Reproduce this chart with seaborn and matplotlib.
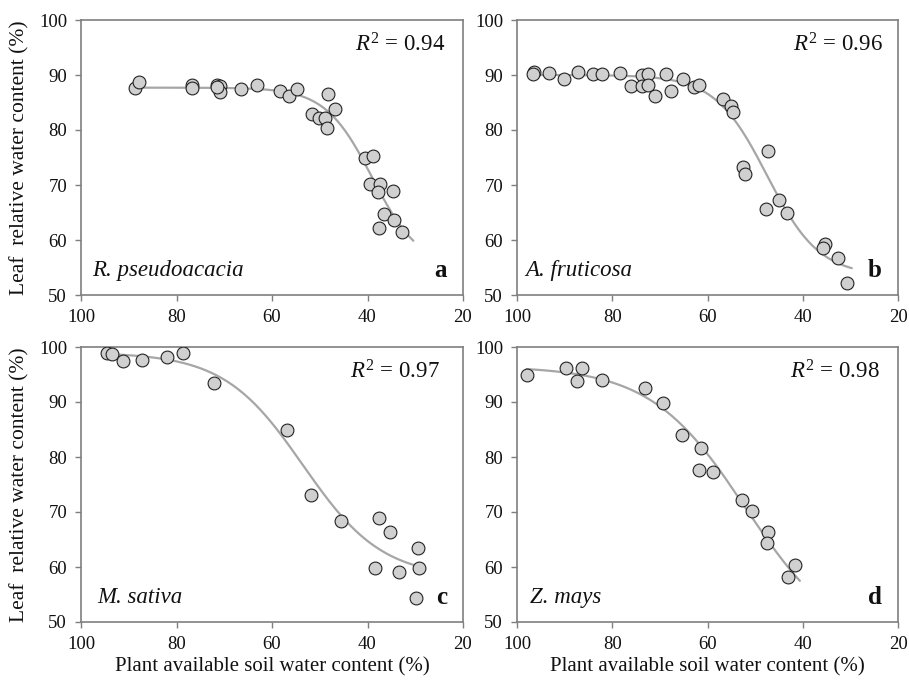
import numpy as np
import pandas as pd
import matplotlib
matplotlib.use("Agg")
import matplotlib.pyplot as plt
import seaborn as sns

# Plant available soil water content (%) and leaf relative water content (%)
x_a = [88.7, 87.9, 76.8, 76.8, 71.6, 70.9, 70.9, 71.6, 66.5, 63.1, 58.3, 56.4, 54.7,
       48.3, 46.8, 51.7, 50.1, 48.9, 48.5, 40.5, 38.9, 39.5, 37.4, 37.7, 34.6, 36.5,
       34.4, 37.5, 32.7]
y_a = [87.6, 88.7, 88.1, 87.6, 88.2, 88.0, 87.0, 87.8, 87.4, 88.2, 87.1, 86.2, 87.5,
       86.5, 83.9, 82.9, 82.1, 82.1, 80.3, 75.0, 75.2, 70.2, 70.2, 68.8, 68.9, 64.7,
       63.6, 62.1, 61.5]

x_b = [96.4, 96.6, 93.2, 90.1, 87.1, 84.0, 82.1, 78.4, 76.1, 73.8, 73.8, 72.4, 72.4,
       71.0, 68.7, 67.7, 65.1, 62.8, 61.7, 56.8, 55.1, 54.7, 47.2, 52.6, 52.1, 44.9,
       47.7, 43.4, 35.3, 35.7, 32.5, 30.8]
y_b = [90.5, 90.2, 90.3, 89.3, 90.5, 90.2, 90.2, 90.3, 88.0, 90.0, 88.0, 90.2, 88.2,
       86.1, 90.2, 87.1, 89.2, 87.9, 88.2, 85.6, 84.4, 83.3, 76.2, 73.2, 72.0, 67.3,
       65.6, 65.0, 59.2, 58.5, 56.7, 52.2]

x_c = [94.6, 93.6, 91.3, 87.3, 81.9, 78.7, 72.1, 56.9, 51.8, 45.6, 37.5, 35.3, 29.4,
       38.4, 33.3, 29.2, 29.8]
y_c = [99.0, 98.7, 97.5, 97.6, 98.1, 99.0, 93.4, 85.0, 73.1, 68.4, 69.0, 66.4, 63.4,
       59.9, 59.1, 59.9, 54.3]

x_d = [98.0, 89.8, 86.4, 87.5, 82.1, 73.1, 69.3, 65.4, 61.4, 61.7, 58.9, 52.8, 50.7,
       47.4, 47.6, 41.6, 43.0]
y_d = [95.0, 96.1, 96.1, 93.8, 94.0, 92.5, 89.9, 84.0, 81.6, 77.6, 77.3, 72.2, 70.1,
       66.4, 64.3, 60.4, 58.1]

# Fitted sigmoid parameters: y = y0 + a / (1 + exp(-(x - x0) / b))
fit_a = dict(y0=55.0, a=32.7, x0=39.0, b=4.93, lo=30.4, hi=88.7)
fit_b = dict(y0=53.5, a=36.5, x0=47.5, b=5.5, lo=29.7, hi=96.6)
fit_c = dict(y0=58.0, a=41.0, x0=53.5, b=8.3, lo=29.3, hi=94.6)
fit_d = dict(y0=45.0, a=51.5, x0=52.0, b=10.0, lo=40.6, hi=98.0)

species = ["R. pseudoacacia", "A. fruticosa", "M. sativa", "Z. mays"]
letters = ["a", "b", "c", "d"]
r2_values = ["0.94", "0.96", "0.97", "0.98"]

x_ticks = [100, 80, 60, 40, 20]
y_ticks = [50, 60, 70, 80, 90, 100]

sns.set_theme(style="ticks")
plt.rcParams["font.family"] = ["Liberation Serif", "DejaVu Serif"]
plt.rcParams["mathtext.fontset"] = "custom"
plt.rcParams["mathtext.rm"] = "Liberation Serif"
plt.rcParams["mathtext.it"] = "Liberation Serif:italic"

W, H = 909, 682
fig = plt.figure(figsize=(W / 100, H / 100), dpi=100)

boxes = [(81, 20, 463, 295), (517, 20, 898, 295),
         (81, 347, 463, 622), (517, 347, 898, 622)]
axes = [fig.add_axes([l / W, 1 - b / H, (r - l) / W, (b - t) / H])
        for (l, t, r, b) in boxes]

data = [(x_a, y_a, fit_a), (x_b, y_b, fit_b), (x_c, y_c, fit_c), (x_d, y_d, fit_d)]
r2_pos = [0.953, 0.961, 0.94, 0.953]
sp_pos = [0.030, 0.022, 0.042, 0.034]
spine_col = "#7f7f7f"

for i, (ax, (xs, ys, fit)) in enumerate(zip(axes, data)):
    xx = np.linspace(fit["lo"], fit["hi"], 300)
    yy = fit["y0"] + fit["a"] / (1 + np.exp(-(xx - fit["x0"]) / fit["b"]))
    sns.lineplot(x=xx, y=yy, ax=ax, color="#a6a6a6", linewidth=1.6, zorder=2)
    df = pd.DataFrame({"pasw": xs, "lrwc": ys})
    sns.scatterplot(data=df, x="pasw", y="lrwc", ax=ax, s=85, color="#d0d0d0",
                    edgecolor="#222222", linewidth=0.8, zorder=3)
    ax.set_xlim(100, 20)
    ax.set_ylim(50, 100)
    ax.set_xticks(x_ticks)
    ax.set_yticks(y_ticks)
    for s in ax.spines.values():
        s.set_visible(True)
        s.set_color(spine_col)
        s.set_linewidth(1.2)
    ax.tick_params(axis="both", direction="out", length=4, width=1.0,
                   color=spine_col, labelsize=13.5, labelcolor="#111111", pad=6)
    ax.set_xlabel("")
    ax.set_ylabel("")
    ax.text(r2_pos[i], 0.91, r"$R^2$ = " + r2_values[i], transform=ax.transAxes,
            ha="right", va="center", fontsize=16.5, color="#111111")
    ax.text(sp_pos[i], 0.09, species[i], transform=ax.transAxes, ha="left",
            va="center", fontsize=16.5, style="italic", color="#111111")
    ax.text(0.958, 0.09, letters[i], transform=ax.transAxes, ha="right",
            va="center", fontsize=18, fontweight="bold", color="#111111")

for ax in (axes[0], axes[2]):
    ax.set_ylabel("Leaf  relative water content (%)", fontsize=15.5, labelpad=7,
                  color="#111111")
for ax in (axes[2], axes[3]):
    ax.set_xlabel("Plant available soil water content (%)", fontsize=15,
                  labelpad=3, color="#111111")

fig.savefig("out.png", dpi=100)
